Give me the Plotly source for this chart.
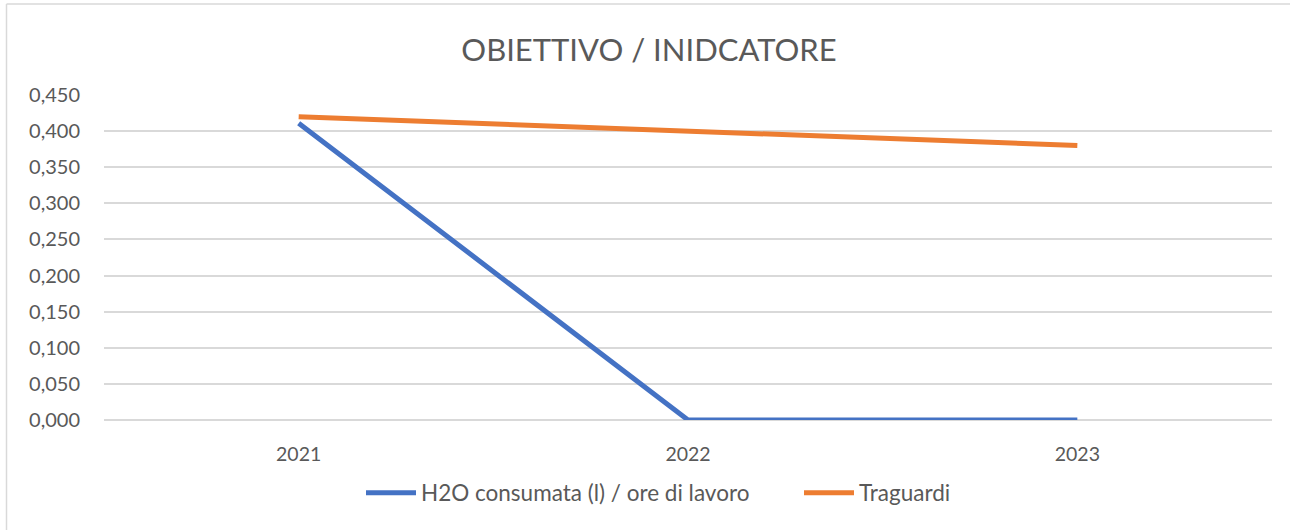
import plotly.graph_objects as go

years = ["2021", "2022", "2023"]
h2o = [0.411, 0.0, 0.0]
traguardi = [0.42, 0.40, 0.38]

W, H = 1290, 530
L, R, T, B = 104, 18, 95, 110
pw, ph = W - L - R, H - T - B

def px(x):
    return (x - L) / pw

def py(y):
    return (H - B - y) / ph

fig = go.Figure()
fig.add_trace(go.Scatter(x=years, y=h2o, mode="lines", name="H2O consumata (l) / ore di lavoro",
                         line=dict(color="#4472C4", width=5), legend="legend"))
fig.add_trace(go.Scatter(x=years, y=traguardi, mode="lines", name="Traguardi",
                         line=dict(color="#ED7D31", width=5), legend="legend2"))

font_family = "Lato, 'Open Sans', sans-serif"
leg_common = dict(orientation="h", yanchor="middle", y=py(493), xanchor="left",
                  font=dict(size=22.5, color="#595959"), itemwidth=50)
fig.update_layout(
    width=W, height=H,
    margin=dict(l=L, r=R, t=T, b=B),
    paper_bgcolor="white", plot_bgcolor="white",
    separators=",.",
    font=dict(family=font_family, color="#595959", size=19),
    title=dict(text="OBIETTIVO / INIDCATORE", x=649 / W, xref="container", xanchor="center",
               y=1 - 50 / H, yref="container", yanchor="middle",
               font=dict(size=31, color="#595959", family=font_family)),
    xaxis=dict(type="category", range=[-0.5, 2.5], showgrid=False, showline=False, zeroline=False,
               ticks="", ticklabelstandoff=20, tickfont=dict(size=19.5, color="#595959")),
    yaxis=dict(range=[0, 0.45], dtick=0.05, tickformat=".3f", showgrid=True, gridcolor="#D9D9D9",
               gridwidth=1.5, zeroline=True, zerolinecolor="#D9D9D9", zerolinewidth=1.5, showline=False,
               ticks="", ticklen=0, ticklabelstandoff=23, tickfont=dict(size=20, color="#595959")),
    legend=dict(x=px(361), **leg_common),
    legend2=dict(x=px(799), **leg_common),
    showlegend=True,
)
fig.add_shape(type="line", xref="paper", yref="paper", x0=px(6.5), x1=px(W), y0=py(4), y1=py(4),
              line=dict(color="#D9D9D9", width=1.5))
fig.add_shape(type="line", xref="paper", yref="paper", x0=px(6.5), x1=px(6.5), y0=py(4), y1=py(H),
              line=dict(color="#D9D9D9", width=1.5))

fig.write_html("out.html", config={"displayModeBar": False},
               post_script="document.body.style.margin='0';document.body.style.padding='0';")
